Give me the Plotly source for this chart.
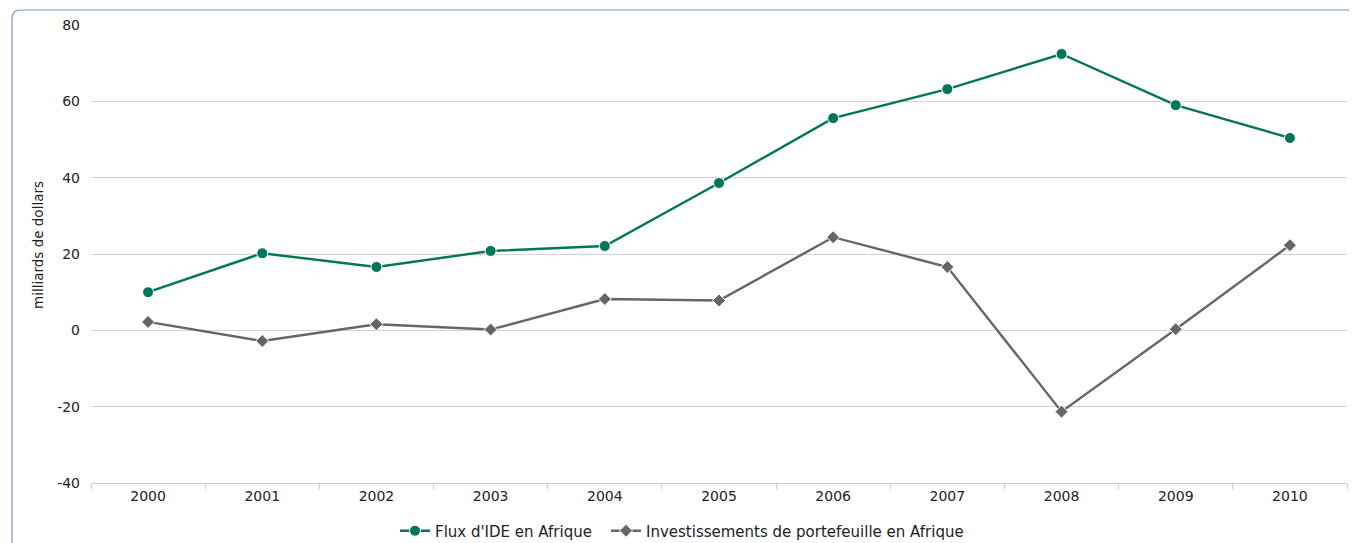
import plotly.graph_objects as go

years = ["2000", "2001", "2002", "2003", "2004", "2005", "2006", "2007", "2008", "2009", "2010"]
ide = [10.0, 20.2, 16.6, 20.8, 22.1, 38.6, 55.6, 63.2, 72.4, 59.0, 50.4]
portefeuille = [2.2, -2.8, 1.6, 0.2, 8.2, 7.8, 24.4, 16.6, -21.3, 0.3, 22.3]
y_ticks = [-40, -20, 0, 20, 40, 60, 80]

OFF = 8  # page body margin
W, H = 1357 - OFF, 543 - OFF
# target window coordinates of the plot area
PL, PR, PT, PB = 91, 1347, 25, 483
L, T = PL - OFF, PT - OFF
R = W - (PR - OFF)
B = H - (PB - OFF)
pw, ph = W - L - R, H - T - B

def px(x):
    return (x - OFF - L) / pw

def py(y):
    return (H - B - (y - OFF)) / ph

fig = go.Figure()
fig.add_trace(go.Scatter(
    x=years, y=ide, name="Flux d'IDE en Afrique", mode="lines+markers",
    line=dict(color="#00775a", width=2.4),
    marker=dict(symbol="circle", size=11, color="#00775a", line=dict(color="white", width=1)),
    legend="legend",
))
fig.add_trace(go.Scatter(
    x=years, y=portefeuille, name="Investissements de portefeuille en Afrique", mode="lines+markers",
    line=dict(color="#666666", width=2.4),
    marker=dict(symbol="diamond", size=10, color="#666666", line=dict(color="white", width=1)),
    legend="legend2",
))

# rounded frame
x0, x1 = px(12), px(1355.5)
y0, y1 = py(10), py(570)
r = 9
rx, ry = r / pw, r / ph
path = (f"M {x0},{y1} L {x0},{y0 - ry} Q {x0},{y0} {x0 + rx},{y0} "
        f"L {x1 - rx},{y0} Q {x1},{y0} {x1},{y0 - ry} L {x1},{y1}")
fig.add_shape(type="path", path=path, xref="paper", yref="paper",
              line=dict(color="#7996c9", width=1.2), layer="below")

fig.add_annotation(text="milliards de dollars", textangle=-90, showarrow=False,
                   xref="paper", yref="paper", x=px(38), y=py(245),
                   xanchor="center", yanchor="middle",
                   font=dict(size=13.5, color="#222222"))

leg_common = dict(orientation="h", xanchor="left", xref="container",
                  y=1 - (531 - OFF) / H, yanchor="middle", yref="container",
                  font=dict(size=15, color="#222222"), itemwidth=30,
                  bgcolor="rgba(0,0,0,0)")

fig.update_layout(
    width=W, height=H,
    margin=dict(l=L, r=R, t=T, b=B, autoexpand=False),
    paper_bgcolor="white", plot_bgcolor="white",
    font=dict(family="DejaVu Sans", size=13, color="#222222"),
    showlegend=True,
    legend=dict(x=(395 - OFF) / W, **leg_common),
    legend2=dict(x=(606 - OFF) / W, **leg_common),
    xaxis=dict(
        type="category", range=[-0.5, 10.5], tickson="boundaries",
        ticks="outside", ticklen=5, tickcolor="#cccccc",
        showline=True, linecolor="#cccccc", linewidth=1,
        showgrid=False, zeroline=False, fixedrange=True, automargin=False,
        tickfont=dict(size=14, color="#222222"),
    ),
    yaxis=dict(
        range=[-40, 80], tickvals=y_ticks, ticktext=[str(v) for v in y_ticks],
        showgrid=True, gridcolor="#d3d3d3", gridwidth=1,
        zeroline=True, zerolinecolor="#d3d3d3", zerolinewidth=1,
        ticks="", showline=False, ticklabelstandoff=10, automargin=False,
        tickfont=dict(size=14, color="#222222"),
    ),
)

fig.write_html("out.html")
